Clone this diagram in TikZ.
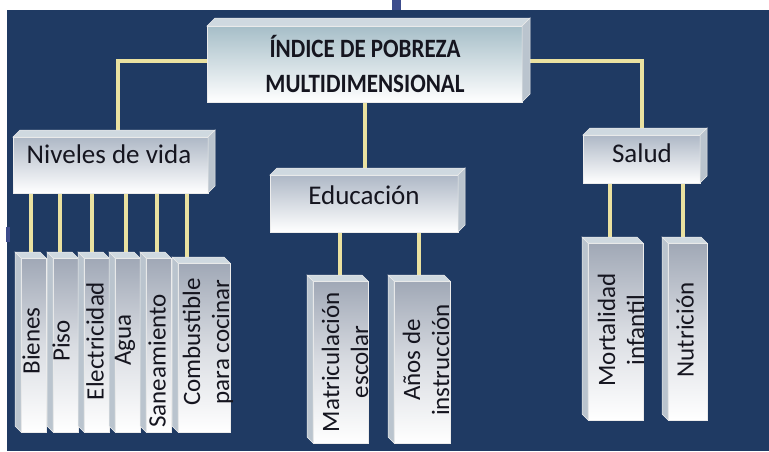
\documentclass[tikz,border=0pt]{standalone}
\usepackage{fontspec}
\usepackage{graphicx}
\setmainfont{Carlito}
\definecolor{bgblue}{HTML}{1F3A63}
\definecolor{connyel}{HTML}{EAE1A0}
\definecolor{txtdark}{HTML}{15151F}
\definecolor{markblue}{HTML}{3C4C8C}
\definecolor{bgA}{HTML}{A6BEC8}
\definecolor{bgB}{HTML}{AEB8C6}
\definecolor{bgC}{HTML}{A0A8B6}
\definecolor{faceTc}{HTML}{CFD9E0}
\definecolor{faceSc}{HTML}{BAC4CE}
\pgfdeclarelayer{bglayer}
\pgfdeclarelayer{connlayer}
\pgfsetlayers{bglayer,connlayer,main}
\tikzset{
  frontA/.style={rectangle, inner sep=0pt, outer sep=0pt, draw=white!85!gray, line width=0.6pt,
     top color=bgA, bottom color=white},
  frontB/.style={rectangle, inner sep=0pt, outer sep=0pt, draw=white!85!gray, line width=0.6pt,
     top color=bgB, bottom color=white},
  frontC/.style={rectangle, inner sep=0pt, outer sep=0pt, draw=white!85!gray, line width=0.6pt,
     top color=bgC, bottom color=white, middle color=white!60!bgC},
  faceT/.style={fill=faceTc, draw=white!85!gray, line width=0.5pt},
  faceS/.style={fill=faceSc, draw=white!85!gray, line width=0.5pt},
  conn/.style={draw=connyel, line width=3.2pt},
  toptxt/.style={font=\fontsize{23}{35}\selectfont\bfseries, text=txtdark, align=center, inner sep=0pt},
  midtxt/.style={font=\fontsize{27}{32}\selectfont, text=txtdark, inner sep=0pt},
  leaftxt/.style={font=\fontsize{25}{29}\selectfont, text=txtdark, rotate=90, align=center, inner sep=0pt},
}
% cube with depth up-right: name, x0, y0, x1, y1, depth, front style
\newcommand{\cubeUR}[7]{%
  \node[#7, minimum width={#4-#2-#6}, minimum height={#5-#3-#6}] (#1) at ({(#2+#4-#6)/2},{(#3+#5+#6)/2}) {};
  \path[faceT] (#1.north west) -- ++(#6,-#6) -- ([shift={(#6,-#6)}]#1.north east) -- (#1.north east) -- cycle;
  \path[faceS] (#1.north east) -- ++(#6,-#6) -- ([shift={(#6,-#6)}]#1.south east) -- (#1.south east) -- cycle;
}
% cube with depth up-left: name, x0, y0, x1, y1, depth
\newcommand{\cubeUL}[6]{%
  \node[frontC, minimum width={#4-#2-#6}, minimum height={#5-#3-#6}] (#1) at ({(#2+#4+#6)/2},{(#3+#5+#6)/2}) {};
  \path[faceT] (#1.north west) -- ++(-#6,-#6) -- ([shift={(-#6,-#6)}]#1.north east) -- (#1.north east) -- cycle;
  \path[faceS] (#1.north west) -- ++(-#6,-#6) -- ([shift={(-#6,-#6)}]#1.south west) -- (#1.south west) -- cycle;
}
\begin{document}
\begin{tikzpicture}[x=1pt,y=-1pt]
\useasboundingbox (0,0) rectangle (769,451);
\begin{pgfonlayer}{bglayer}
\fill[white] (0,0) rectangle (769,451);
\fill[bgblue] (7,10) rectangle (769,451);
\fill[markblue] (392,0) rectangle (401,10);
\fill[markblue] (6,227) rectangle (10,242);
\end{pgfonlayer}

% boxes
\cubeUR{top}{207}{18}{530}{102}{8}{frontA}
\cubeUR{niv}{13}{130}{215}{193}{7}{frontB}
\cubeUR{edu}{270}{168}{465}{232}{7}{frontB}
\cubeUR{sal}{583}{128}{707}{183}{7}{frontB}

\cubeUL{bie}{15}{252}{46}{432}{6}
\cubeUL{pis}{47}{252}{78}{432}{6}
\cubeUL{ele}{78}{252}{109}{432}{6}
\cubeUL{agu}{109}{252}{140}{432}{6}
\cubeUL{san}{140}{252}{171}{432}{6}
\cubeUL{com}{172}{257}{230}{432}{6}
\cubeUL{mat}{307}{275}{368}{443}{6}
\cubeUL{ano}{388}{275}{450}{443}{6}
\cubeUL{mor}{582}{237}{643}{420}{6}
\cubeUL{nut}{662}{237}{707}{420}{6}

% texts
\node[toptxt] (ttop) at (365,64) {\scalebox{1}[1.15]{ÍNDICE DE POBREZA}\\\scalebox{1}[1.15]{MULTIDIMENSIONAL}};
\node[midtxt] (tniv) at (109,154) {Niveles de vida};
\node[midtxt] (tedu) at (364,195) {Educación};
\node[midtxt] (tsal) at (642,153) {Salud};
\node[leaftxt] (tbie) at (31,341) {Bienes};
\node[leaftxt] (tpis) at (61,341) {Piso};
\node[leaftxt] (tele) at (95,341) {Electricidad};
\node[leaftxt] (tagu) at (125,340) {Agua};
\node[leaftxt] (tsan) at (157,361) {Saneamiento};
\node[leaftxt] (tcom) at (208,342) {Combustible\\para cocinar};
\node[leaftxt] (tmat) at (345,362) {Matriculación\\escolar};
\node[leaftxt] (tano) at (426,360) {Años de\\instrucción};
\node[leaftxt] (tmor) at (621,330) {Mortalidad\\infantil};
\node[leaftxt] (tnut) at (685,330) {Nutrición};

% connectors
\coordinate (cbie) at (31,0);
\coordinate (cpis) at (60,0);
\coordinate (cele) at (92,0);
\coordinate (cagu) at (126,0);
\coordinate (csan) at (157,0);
\coordinate (ccom) at (187,0);
\coordinate (cmat) at (340,0);
\coordinate (cano) at (419,0);
\coordinate (cmor) at (610,0);
\coordinate (cnut) at (683,0);
\coordinate (cniv) at (118,0);
\coordinate (csal) at (642,0);
\coordinate (cedu) at (365,0);
\begin{pgfonlayer}{connlayer}
\draw[conn] ([yshift=3]top.west) -| (niv.north -| cniv);
\draw[conn] ([yshift=3]top.east) -| (sal.north -| csal);
\draw[conn] (top.south -| cedu) -- (edu.north -| cedu);
\foreach \n in {bie,pis,ele,agu,san,com}
  \draw[conn] (niv.south -| c\n) -- (\n.north -| c\n);
\foreach \n in {mat,ano}
  \draw[conn] (edu.south -| c\n) -- (\n.north -| c\n);
\foreach \n in {mor,nut}
  \draw[conn] (sal.south -| c\n) -- (\n.north -| c\n);
\end{pgfonlayer}
\end{tikzpicture}
\end{document}
